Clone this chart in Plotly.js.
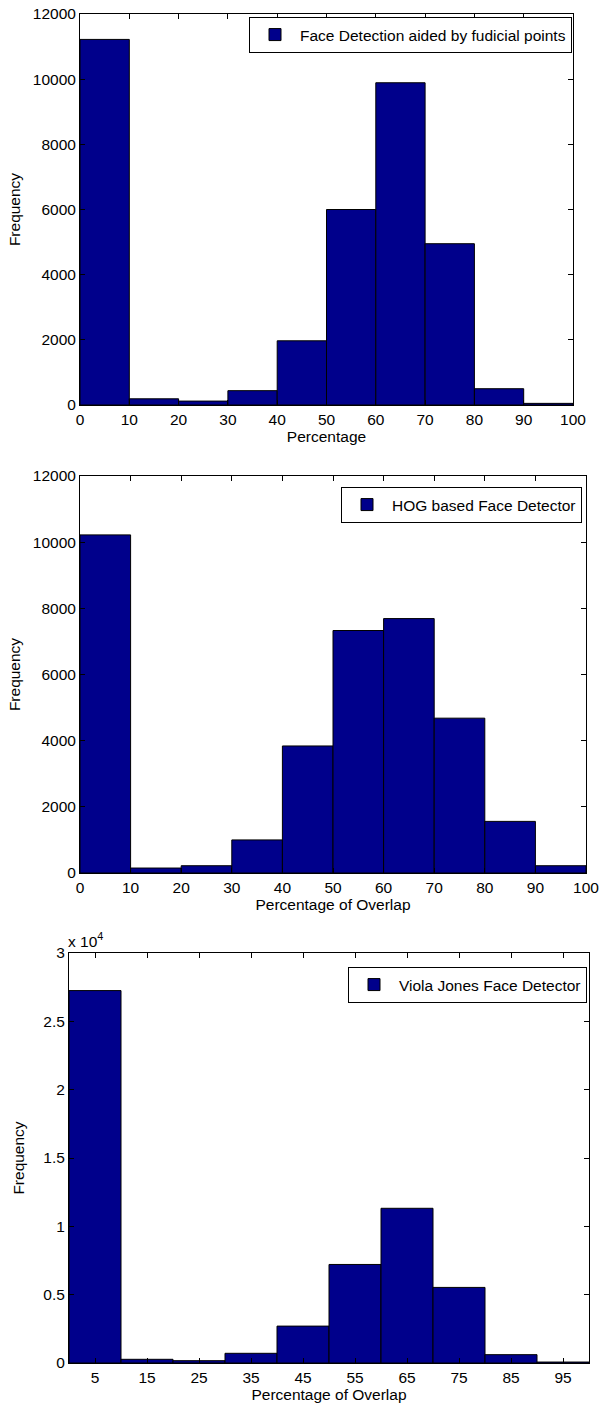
<!DOCTYPE html>
<html>
<head>
<meta charset="utf-8">
<script src="https://cdn.plot.ly/plotly-3.0.1.min.js"></script>
<style>html,body{margin:0;padding:0;background:#fff;}#chart{width:604px;height:1408px;}</style>
</head>
<body>
<div id="chart"></div>
<script>
// Bin centers (percentage of overlap, bins of width 10)
const binCenters = [5, 15, 25, 35, 45, 55, 65, 75, 85, 95];

// Frequencies
const fudicialCounts = [11220, 190, 120, 440, 1970, 6000, 9890, 4950, 500, 50];
const hogCounts = [10220, 150, 220, 1000, 3840, 7330, 7690, 4680, 1560, 220];
const violaCounts = [27250, 270, 170, 710, 2700, 7210, 11320, 5530, 610, 70];

// Series names
const names = ["Face Detection aided by fudicial points", "HOG based Face Detector", "Viola Jones Face Detector"];

// Tick labels
const xTicks010 = [0, 10, 20, 30, 40, 50, 60, 70, 80, 90, 100];
const yTicks12k = [0, 2000, 4000, 6000, 8000, 10000, 12000];
const yTickText12k = ["0", "2000", "4000", "6000", "8000", "10000", "12000"];
const yTicksViola = [0, 5000, 10000, 15000, 20000, 25000, 30000];
const yTickTextViola = ["0", "0.5", "1", "1.5", "2", "2.5", "3"];

const barColor = "#00008B";
const font = {family: "Liberation Sans, Arial, sans-serif", size: 15.5, color: "#000"};
const legFont = {family: "Liberation Sans, Arial, sans-serif", size: 15.5, color: "#000"};

function bar(y, name, xa, ya, lg) {
  return {
    type: "bar", x: binCenters, y: y, width: 10, name: name,
    xaxis: xa, yaxis: ya, legend: lg, showlegend: true,
    marker: {color: barColor, line: {color: "#000", width: 1}}
  };
}

const axBase = {
  showline: true, linecolor: "#000", linewidth: 1, mirror: "ticks",
  ticks: "inside", ticklen: 5, tickcolor: "#000", showgrid: false, zeroline: false,
  tickfont: font
};

const pxX = v => v / 604;
const pxY = v => 1 - v / 1408;

const data = [
  bar(fudicialCounts, names[0], "x", "y", "legend"),
  bar(hogCounts, names[1], "x2", "y2", "legend2"),
  bar(violaCounts, names[2], "x3", "y3", "legend3")
];

function legendAt(xr, yt) {
  return {x: xr, y: yt, xanchor: "right", yanchor: "top", xref: "paper", yref: "paper",
          bordercolor: "#000", borderwidth: 1, bgcolor: "#fff", font: legFont,
          tracegroupgap: 0, itemwidth: 40};
}

const layout = {
  width: 604, height: 1408,
  margin: {l: 0, r: 0, t: 0, b: 0},
  paper_bgcolor: "#fff", plot_bgcolor: "#fff",
  font: font, bargap: 0,
  xaxis: Object.assign({}, axBase, {domain: [pxX(80), pxX(573)], range: [0, 100], tickvals: xTicks010,
    anchor: "y", title: {text: "Percentage", font: font, standoff: 2}}),
  yaxis: Object.assign({}, axBase, {domain: [pxY(405), pxY(14)], range: [0, 12000], tickvals: yTicks12k,
    ticktext: yTickText12k, anchor: "x", title: {text: "Frequency", font: font, standoff: 8}}),
  xaxis2: Object.assign({}, axBase, {domain: [pxX(80), pxX(586)], range: [0, 100], tickvals: xTicks010,
    anchor: "y2", title: {text: "Percentage of Overlap", font: font, standoff: 2}}),
  yaxis2: Object.assign({}, axBase, {domain: [pxY(873), pxY(476)], range: [0, 12000], tickvals: yTicks12k,
    ticktext: yTickText12k, anchor: "x2", title: {text: "Frequency", font: font, standoff: 8}}),
  xaxis3: Object.assign({}, axBase, {domain: [pxX(69), pxX(589)], range: [0, 100], tickvals: binCenters,
    anchor: "y3", title: {text: "Percentage of Overlap", font: font, standoff: 2}}),
  yaxis3: Object.assign({}, axBase, {domain: [pxY(1363), pxY(953)], range: [0, 30000], tickvals: yTicksViola,
    ticktext: yTickTextViola, anchor: "x3", title: {text: "Frequency", font: font, standoff: 14}}),
  legend: legendAt(pxX(572), pxY(17)),
  legend2: legendAt(pxX(582), pxY(487)),
  legend3: legendAt(pxX(587), pxY(967)),
  annotations: [{
    text: "x 10<sup>4</sup>", xref: "paper", yref: "paper", x: pxX(66), y: pxY(952),
    xanchor: "left", yanchor: "bottom", showarrow: false, font: font
  }]
};

Plotly.newPlot("chart", data, layout, {staticPlot: true, displayModeBar: false});
</script>
</body>
</html>
